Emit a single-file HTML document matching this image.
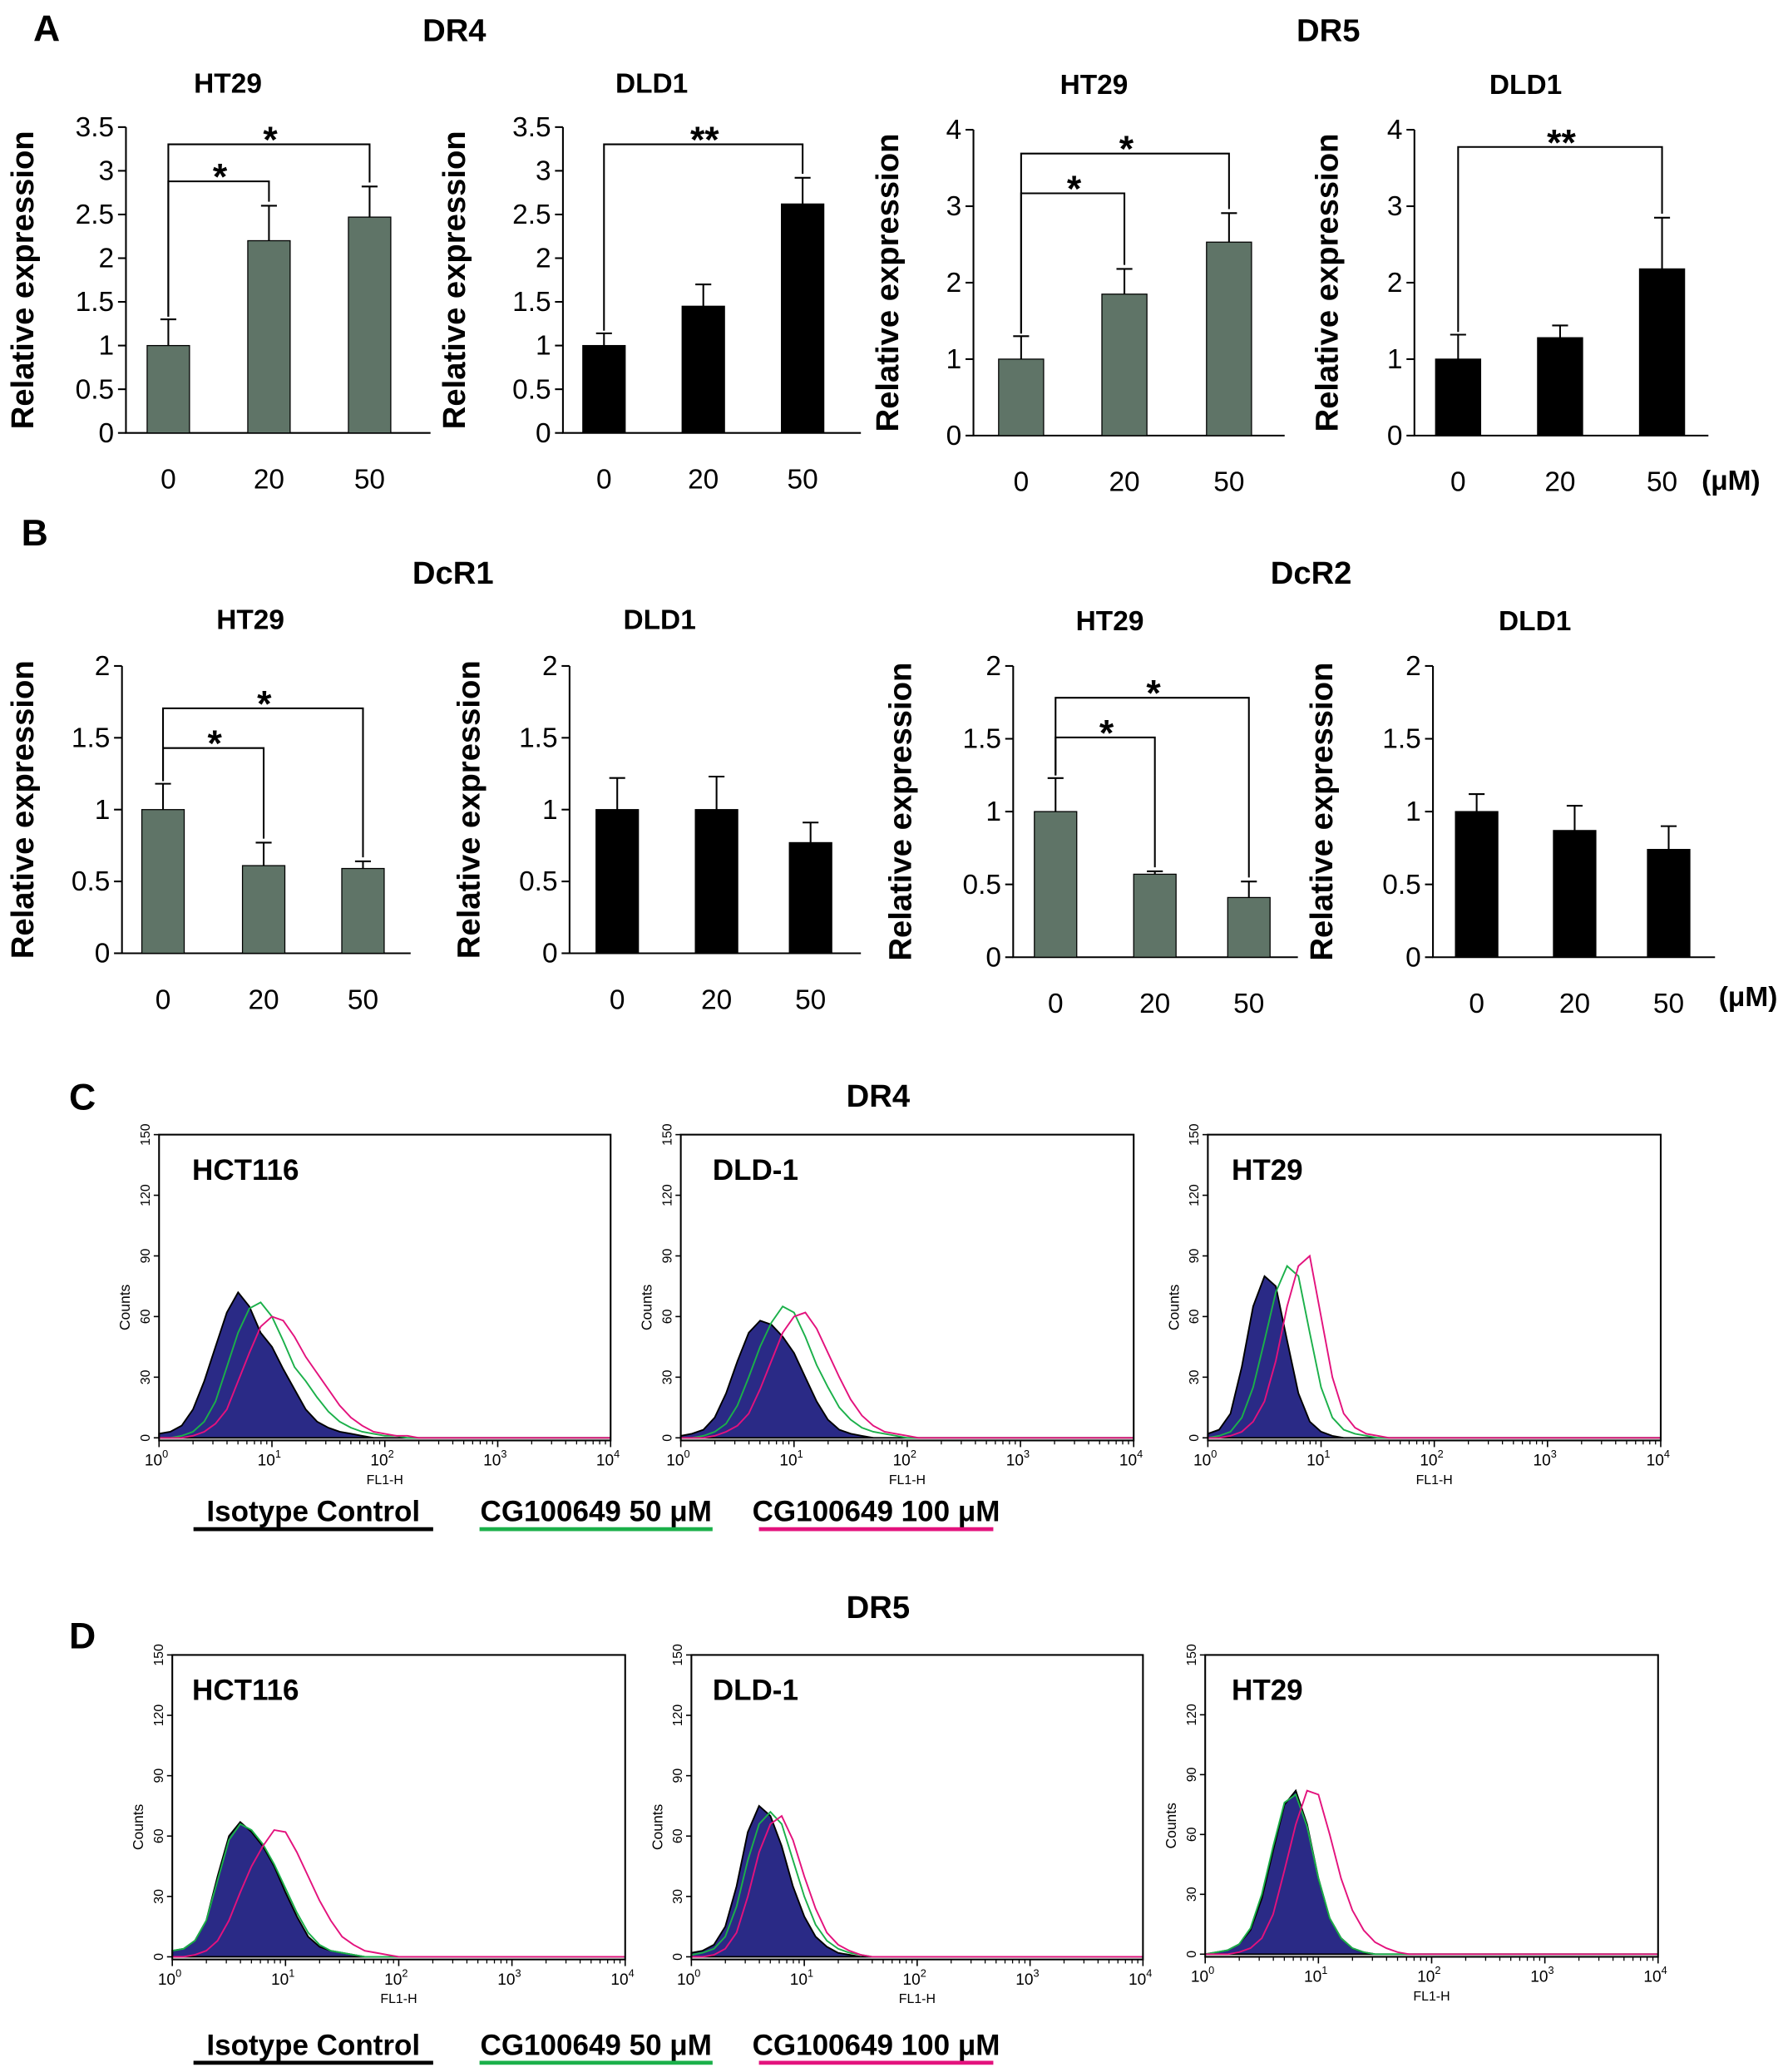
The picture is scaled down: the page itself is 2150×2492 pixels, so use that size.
<!DOCTYPE html>
<html><head><meta charset="utf-8">
<style>
html,body{margin:0;padding:0;background:#fff;}
svg{display:block;font-family:"Liberation Sans",Arial,sans-serif;}
</style></head>
<body>
<svg id="fig" width="2150" height="2492" viewBox="0 0 1350 1565" xmlns="http://www.w3.org/2000/svg">
<g id="static" font-weight="bold" fill="#000">
<text x="25" y="31" font-size="28">A</text>
<text x="343" y="31" font-size="24" text-anchor="middle">DR4</text>
<text x="1003" y="31" font-size="24" text-anchor="middle">DR5</text>
<text x="16" y="412" font-size="28">B</text>
<text x="342" y="441" font-size="24" text-anchor="middle">DcR1</text>
<text x="990" y="441" font-size="24" text-anchor="middle">DcR2</text>
<text x="52" y="838" font-size="28">C</text>
<text x="663" y="836" font-size="24" text-anchor="middle">DR4</text>
<text x="52" y="1245" font-size="28">D</text>
<text x="663" y="1222" font-size="24" text-anchor="middle">DR5</text>
<text x="1307" y="370" font-size="21" text-anchor="middle">(μM)</text>
<text x="1320" y="760" font-size="21" text-anchor="middle">(μM)</text>
</g>
<g id="charts"></g>
</svg>
<script>
// ---- bar chart data ----
const doses = ["0", "20", "50"];
const a1Values = [1, 2.2, 2.47];   const a1Err = [0.3, 0.4, 0.35];
const a2Values = [1, 1.45, 2.62];  const a2Err = [0.14, 0.25, 0.3];
const a3Values = [1, 1.85, 2.53];  const a3Err = [0.3, 0.33, 0.38];
const a4Values = [1, 1.28, 2.18];  const a4Err = [0.32, 0.16, 0.67];
const b1Values = [1, 0.61, 0.59];  const b1Err = [0.18, 0.16, 0.05];
const b2Values = [1, 1.0, 0.77];   const b2Err = [0.22, 0.23, 0.14];
const b3Values = [1, 0.57, 0.41];  const b3Err = [0.23, 0.02, 0.11];
const b4Values = [1, 0.87, 0.74];  const b4Err = [0.12, 0.17, 0.16];
const ticks35 = ["0","0.5","1","1.5","2","2.5","3","3.5"];
const ticks4 = ["0","1","2","3","4"];
const ticks2 = ["0","0.5","1","1.5","2"];

// ---- histogram data (counts at log10(FL1-H) = 0.0, 0.1, 0.2, ...) ----
const cHctIso = [2,3,6,14,28,45,62,72,65,52,45,34,24,14,8,5,3,2,1,0];
const cHctG50 = [0,0,1,3,8,18,35,52,64,67,60,48,35,28,20,13,8,5,3,2,1,1,0];
const cHctM100 = [0,0,0,1,3,7,14,28,42,55,60,58,50,40,32,24,16,10,6,3,2,1,1,0];
const cDldIso = [1,2,4,10,22,38,52,58,56,50,42,30,18,9,4,2,1,0];
const cDldG50 = [0,0,1,3,7,16,30,45,57,65,62,50,36,25,15,9,5,3,2,1,0];
const cDldM100 = [0,0,0,1,3,6,12,24,38,52,60,62,54,42,30,19,11,6,3,2,1,0];
const cHtIso = [2,4,12,35,65,80,75,48,22,8,3,1,0];
const cHtG50 = [0,1,3,10,25,48,72,85,80,52,25,10,4,2,1,0];
const cHtM100 = [0,0,1,3,8,18,38,65,85,90,60,30,12,5,2,1,0];
const dHctIso = [3,4,8,18,40,60,67,62,55,45,32,20,10,5,3,2,1,0];
const dHctG50 = [3,4,8,18,38,58,66,63,56,46,34,22,12,6,3,2,1,0];
const dHctM100 = [0,0,1,3,8,18,32,45,55,63,62,52,40,28,18,10,6,3,2,1,0];
const dDldIso = [2,3,6,15,35,62,75,70,55,35,20,10,5,2,1,0];
const dDldG50 = [1,2,4,10,25,48,66,72,66,48,30,16,8,4,2,1,0];
const dDldM100 = [0,0,1,4,12,30,52,66,70,58,40,24,12,6,3,1,0];
const dHtIso = [0,1,2,5,12,28,52,75,82,65,38,18,8,3,1,0];
const dHtG50 = [0,1,2,5,13,30,54,76,80,64,38,18,8,3,1,0];
const dHtM100 = [0,0,0,1,3,8,20,42,65,82,80,60,38,22,12,6,3,1,0];
const countTicks = ["0","30","60","90","120","150"];
const decadeTicks = ["0","1","2","3","4"];

const NS = "http://www.w3.org/2000/svg";
const root = document.getElementById("charts");
function mk(tag, attrs, parent, text) {
  const e = document.createElementNS(NS, tag);
  for (const k in attrs) e.setAttribute(k, attrs[k]);
  if (text !== undefined) e.textContent = text;
  (parent || root).appendChild(e);
  return e;
}

function barChart(cfg) {
  const g = mk("g", {});
  
  
  const ymax = parseFloat(cfg.ticks[cfg.ticks.length - 1]);
  const yS = v => cfg.y0 - (v / ymax) * (cfg.y0 - cfg.yTop);
  const xS = i => cfg.bx[i];
  const t = mk("text", {x: cfg.titleX, y: cfg.titleY, "font-size": 21, "font-weight": "bold", "text-anchor": "middle"}, g, cfg.title);
  
  
  const yt = mk("text", {x: 0, y: 0, "font-size": 24, "font-weight": "bold", "text-anchor": "middle", transform: `translate(${cfg.ytX},${(cfg.y0 + cfg.yTop) / 2}) rotate(-90)`}, g, "Relative expression");
  
  
  const ax = mk("path", {d: `M${cfg.ax},${cfg.yTop} V${cfg.y0} H${cfg.axEnd}`, stroke: "#000", "stroke-width": 1.3, fill: "none"}, g);
  
  
  cfg.ticks.forEach(tk => {
    const y = yS(parseFloat(tk));
    const l = mk("line", {x1: cfg.ax - 6, x2: cfg.ax, y1: y, y2: y, stroke: "#000", "stroke-width": 1.3}, g);
    
    
    const tx = mk("text", {x: cfg.ax - 9, y: y + 7, "font-size": 21, "text-anchor": "end"}, g, tk);
    
    
  });
  cfg.values.forEach((v, i) => {
    const cx = xS(i), w = cfg.bw;
    const b = mk("rect", {x: cx - w / 2, y: yS(v), width: w, height: cfg.y0 - yS(v), fill: cfg.color, stroke: "#000", "stroke-width": 0.8}, g);
    
    
    const ey = yS(v + cfg.err[i]);
    const e = mk("path", {d: `M${cx},${yS(v)} V${ey} M${cx - 6},${ey} H${cx + 6}`, stroke: "#000", "stroke-width": 1.3, fill: "none"}, g);
    
    
    const lb = mk("text", {x: cx, y: cfg.y0 + 42, "font-size": 21, "text-anchor": "middle"}, g, doses[i]);
    
    
  });
  (cfg.sig || []).forEach(s => {
    const x1 = xS(0), x2 = xS(s.to);
    const top = cfg.values[s.to] + cfg.err[s.to];
    const p = mk("path", {d: `M${x1},${yS(cfg.values[0] + cfg.err[0]) - 2} V${s.y} H${x2} V${yS(top) - 3}`, stroke: "#000", "stroke-width": 1.3, fill: "none"}, g);
    
    
    const st = mk("text", {x: (x1 + x2) / 2 + 1, y: s.y + 6, "font-size": 28, "font-weight": "bold", "text-anchor": "middle"}, g, s.label);
    
    
  });
}
const GREEN = "#5f7467", BLACK = "#000";
barChart({name:"chart-dr4-ht29", title:"HT29", titleX:172, titleY:70, ax:95, axEnd:325, y0:327, yTop:96, ticks:ticks35, bx:[127,203,279], bw:32, values:a1Values, err:a1Err, color:GREEN, ytX:25, sig:[{to:1,y:137,label:"*"},{to:2,y:109,label:"*"}]});
barChart({name:"chart-dr4-dld1", title:"DLD1", titleX:492, titleY:70, ax:425, axEnd:650, y0:327, yTop:96, ticks:ticks35, bx:[456,531,606], bw:32, values:a2Values, err:a2Err, color:BLACK, ytX:351, sig:[{to:2,y:109,label:"**"}]});
barChart({name:"chart-dr5-ht29", title:"HT29", titleX:826, titleY:71, ax:735, axEnd:970, y0:329, yTop:98, ticks:ticks4, bx:[771,849,928], bw:34, values:a3Values, err:a3Err, color:GREEN, ytX:678, sig:[{to:1,y:146,label:"*"},{to:2,y:116,label:"*"}]});
barChart({name:"chart-dr5-dld1", title:"DLD1", titleX:1152, titleY:71, ax:1068, axEnd:1290, y0:329, yTop:98, ticks:ticks4, bx:[1101,1178,1255], bw:34, values:a4Values, err:a4Err, color:BLACK, ytX:1010, sig:[{to:2,y:111,label:"**"}]});
barChart({name:"chart-dcr1-ht29", title:"HT29", titleX:189, titleY:475, ax:92, axEnd:310, y0:720, yTop:503, ticks:ticks2, bx:[123,199,274], bw:32, values:b1Values, err:b1Err, color:GREEN, ytX:25, sig:[{to:1,y:565,label:"*"},{to:2,y:535,label:"*"}]});
barChart({name:"chart-dcr1-dld1", title:"DLD1", titleX:498, titleY:475, ax:430, axEnd:650, y0:720, yTop:503, ticks:ticks2, bx:[466,541,612], bw:32, values:b2Values, err:b2Err, color:BLACK, ytX:362, sig:[]});
barChart({name:"chart-dcr2-ht29", title:"HT29", titleX:838, titleY:476, ax:765, axEnd:980, y0:723, yTop:503, ticks:ticks2, bx:[797,872,943], bw:32, values:b3Values, err:b3Err, color:GREEN, ytX:688, sig:[{to:1,y:557,label:"*"},{to:2,y:527,label:"*"}]});
barChart({name:"chart-dcr2-dld1", title:"DLD1", titleX:1159, titleY:476, ax:1082, axEnd:1295, y0:723, yTop:503, ticks:ticks2, bx:[1115,1189,1260], bw:32, values:b4Values, err:b4Err, color:BLACK, ytX:1006, sig:[]});

function histo(cfg) {
  const g = mk("g", {});
  
  
  const L = cfg.x, R = cfg.x + cfg.w, T = cfg.y, B = cfg.y + cfg.h;
  const y0 = B - 2;
  const xS = lg => L + (lg / 4) * (R - L);
  const yS = c => y0 - (c / 150) * (y0 - T);
  const pts = arr => { const p = arr.map((c, i) => [xS(i * 0.1), yS(c)]); p.push([R, yS(0)]); return p; };
  const iso = pts(cfg.iso);
  const fillD = "M" + xS(0) + "," + y0 + " " + iso.map(p => "L" + p[0].toFixed(1) + "," + p[1].toFixed(1)).join(" ") + " L" + R + "," + y0 + " Z";
  const f = mk("path", {d: fillD, fill: "#2a2a86", stroke: "#000", "stroke-width": 1.2}, g);
  
  
  const g50 = mk("polyline", {points: pts(cfg.g50).map(p => p.join(",")).join(" "), fill: "none", stroke: "#1bb04a", "stroke-width": 1.2}, g);
  
  
  const m = mk("polyline", {points: pts(cfg.m100).map(p => p.join(",")).join(" "), fill: "none", stroke: "#e3127d", "stroke-width": 1.2}, g);
  
  
  const box = mk("rect", {x: L, y: T, width: R - L, height: B - T, fill: "none", stroke: "#000", "stroke-width": 1.3}, g);
  
  
  countTicks.forEach(tk => {
    const y = yS(parseFloat(tk));
    const l = mk("line", {x1: L - 4, x2: L, y1: y, y2: y, stroke: "#000"}, g);
    
    
    const tx = mk("text", {x: 0, y: 0, "font-size": 10, "text-anchor": "middle", transform: `translate(${L - 7},${y}) rotate(-90)`}, g, tk);
    
    
  });
  const ct = mk("text", {x: 0, y: 0, "font-size": 11, "text-anchor": "middle", transform: `translate(${L - 22},${(T + B) / 2 + 15}) rotate(-90)`}, g, "Counts");
  
  
  decadeTicks.forEach(d => {
    const x = xS(parseFloat(d));
    const l = mk("line", {x1: x, x2: x, y1: B, y2: B + 5, stroke: "#000"}, g);
    
    
    const tx = mk("text", {x: x - 2, y: B + 19, "font-size": 12, "text-anchor": "middle"}, g);
    
    
    mk("tspan", {}, tx, "10");
    mk("tspan", {dy: -6, "font-size": 8}, tx, d);
    if (d !== "4") for (let k = 2; k <= 9; k++) {
      const xm = xS(parseFloat(d) + Math.log10(k));
      mk("line", {x1: xm, x2: xm, y1: B, y2: B + 3, stroke: "#000", "stroke-width": 0.8}, g);
    }
  });
  const xt = mk("text", {x: (L + R) / 2, y: B + 33, "font-size": 10, "text-anchor": "middle"}, g, "FL1-H");
  
  
  const lab = mk("text", {x: cfg.lx, y: T + 34, "font-size": 22, "font-weight": "bold"}, g, cfg.label);
  
  
}
histo({name:"hist-dr4-hct116", x:120, y:857, w:341, h:231, lx:145, label:"HCT116", iso:cHctIso, g50:cHctG50, m100:cHctM100});
histo({name:"hist-dr4-dld1", x:514, y:857, w:342, h:231, lx:538, label:"DLD-1", iso:cDldIso, g50:cDldG50, m100:cDldM100});
histo({name:"hist-dr4-ht29", x:912, y:857, w:342, h:231, lx:930, label:"HT29", iso:cHtIso, g50:cHtG50, m100:cHtM100});
histo({name:"hist-dr5-hct116", x:130, y:1250, w:342, h:230, lx:145, label:"HCT116", iso:dHctIso, g50:dHctG50, m100:dHctM100});
histo({name:"hist-dr5-dld1", x:522, y:1250, w:341, h:230, lx:538, label:"DLD-1", iso:dDldIso, g50:dDldG50, m100:dDldM100});
histo({name:"hist-dr5-ht29", x:910, y:1250, w:342, h:228, lx:930, label:"HT29", iso:dHtIso, g50:dHtG50, m100:dHtM100});

function legend(y, name) {
  const g = mk("g", {});
  
  
  const items = [["Isotype Control", 146, 327, "#000"], ["CG100649 50 μM", 362, 538, "#1bb04a"], ["CG100649 100 μM", 573, 750, "#e3127d"]];
  items.forEach(it => {
    const t = mk("text", {x: (it[1] + it[2]) / 2, y: y, "font-size": 22, "font-weight": "bold", "text-anchor": "middle"}, g, it[0]);
    
    
    const l = mk("line", {x1: it[1], x2: it[2], y1: y + 6, y2: y + 6, stroke: it[3], "stroke-width": 3}, g);
    
    
  });
}
legend(1149, "legend-c");
legend(1552, "legend-d");
</script>
</body></html>
